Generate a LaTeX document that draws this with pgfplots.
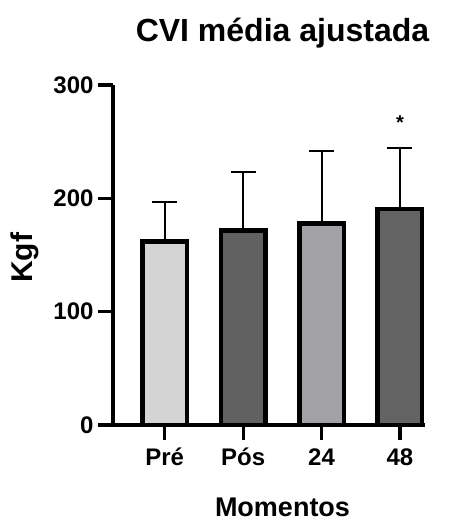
\documentclass[border=0pt]{standalone}
\usepackage{pgfplots}
\pgfplotsset{compat=1.18}
\usepackage{fontspec}
\setmainfont{Liberation Sans}
\definecolor{cpre}{HTML}{D4D4D4}
\definecolor{cpos}{HTML}{606060}
\definecolor{c24}{HTML}{A2A2A6}
\definecolor{c48}{HTML}{636363}
\begin{document}
\begin{tikzpicture}
\begin{axis}[
  at={(0,0)}, anchor=south west,
  scale only axis, width=312pt, height=340pt,
  xmin=-0.66, xmax=3.32, ymin=0, ymax=300,
  axis lines=left, axis line style={-, line width=3.2pt},
  ytick={0,100,200,300}, xtick={0,1,2,3}, xticklabels={Pré,Pós,24,48},
  tick style={line width=3.2pt, black}, tick align=outside, major tick length=15pt,
  tick label style={font=\fontsize{24}{24}\selectfont\bfseries},
  /pgf/number format/assume math mode=true,
  xticklabel style={anchor=base, yshift=-25pt},
  yticklabel style={anchor=east, xshift=-1pt},
  ybar, bar width=44.5pt, bar shift=0pt,
  clip=false,
  error bars/error bar style={line width=2pt, black},
  error bars/error mark=-,
  error bars/error mark options={rotate=90, line width=2pt, mark size=12.5pt, black, solid},
]
\addplot[fill=cpre, draw=black, line width=4.5pt, error bars/.cd, y dir=plus, y explicit]
  coordinates {(0,162) +- (0,34.5)};
\addplot[fill=cpos, draw=black, line width=4.5pt, error bars/.cd, y dir=plus, y explicit]
  coordinates {(1,171.5) +- (0,51.5)};
\addplot[fill=c24, draw=black, line width=4.5pt, error bars/.cd, y dir=plus, y explicit]
  coordinates {(2,178) +- (0,64)};
\addplot[fill=c48, draw=black, line width=4.5pt, error bars/.cd, y dir=plus, y explicit]
  coordinates {(3,190.5) +- (0,54)};
\node[anchor=base, font=\fontsize{20}{20}\selectfont\bfseries] at (axis cs:3,261) {*};
\end{axis}
\node[anchor=base, font=\fontsize{32}{32}\selectfont\bfseries] at (169.5pt,383pt) {CVI média ajustada};
\node[anchor=base, font=\fontsize{27}{27}\selectfont\bfseries] at (169.5pt,-91pt) {Momentos};
\node[rotate=90, font=\fontsize{30}{30}\selectfont\bfseries] at (-88pt,167pt) {Kgf};
\pgfresetboundingbox
\path (-113pt,-96pt) rectangle (336pt,425pt);
\end{tikzpicture}
\end{document}
